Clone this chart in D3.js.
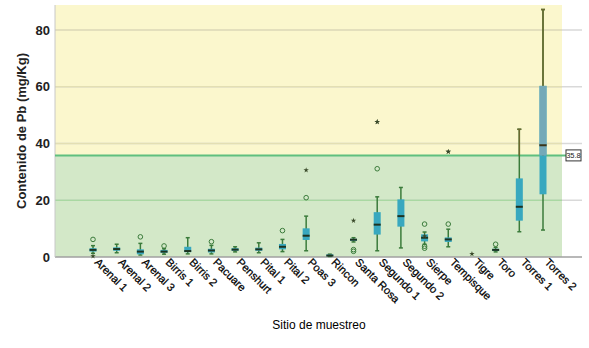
<!DOCTYPE html>
<html>
<head>
<meta charset="utf-8">
<script src="https://cdn.jsdelivr.net/npm/d3@7"></script>
<style>
  body { margin: 0; background: #fff; }
  text { font-family: "Liberation Sans", Arial, sans-serif; }
</style>
</head>
<body>
<script>
const sites = ['Arenal 1', 'Arenal 2', 'Arenal 3', 'Birris 1', 'Birris 2', 'Pacuare', 'Penshurt', 'Pital 1', 'Pital 2', 'Poas 3',
  'Rincon', 'Santa Rosa', 'Segundo 1', 'Segundo 2', 'Sierpe', 'Tempisque', 'Tigre', 'Toro', 'Torres 1', 'Torres 2']
const whiskerLow = [1.3, 1.5, 0.7, 1.0, 1.1, 1.1, 1.8, 1.5, 1.9, 2.2, 0.2, 5.3, 2.2, 3.2, 4.5, 3.6, 0.8, 1.8, 8.9, 9.5]
const q1 = [1.9, 2.2, 0.95, 1.5, 1.7, 1.6, 2.2, 2.2, 2.7, 6.0, 0.3, 5.7, 7.9, 10.7, 5.5, 5.3, 0.8, 2.1, 12.8, 22.1]
const median = [2.5, 2.8, 1.9, 1.9, 2.1, 2.3, 2.6, 2.7, 3.6, 7.5, 0.5, 6.1, 11.4, 14.4, 6.8, 6.2, 0.8, 2.5, 17.7, 39.4]
const q3 = [3.1, 3.4, 2.7, 2.5, 3.6, 2.9, 3.1, 3.3, 4.6, 10.1, 0.9, 6.4, 15.8, 20.3, 8.0, 6.9, 0.8, 2.9, 27.7, 60.3]
const whiskerHigh = [4.0, 4.5, 4.8, 2.9, 6.8, 4.1, 3.6, 5.0, 6.2, 14.4, 1.0, 6.8, 21.2, 24.5, 8.8, 9.8, 0.8, 3.4, 45.0, 87.2]
const outliers = [[6.2], [], [7.1], [3.9], [], [5.4], [], [], [9.3], [20.9], [], [2.0, 2.6], [31.1], [], [11.6, 3.1, 3.8], [11.6], [], [4.5], [], []]
const extremes = [[0.3], [], [], [], [], [], [], [], [], [30.6], [], [12.8], [47.6], [], [7.4], [37.1], [1.1], [], [], []]
const limit = 35.8
const yTicks = [0, 20, 40, 60, 80]

const width = 589
const height = 348
const plotLeft = 55, plotRight = 562, plotTop = 5, plotBottom = 257

const svg = d3.select('body').append('svg')
  .attr('width', width)
  .attr('height', height)

const x = d3.scalePoint().domain(sites).range([93, 543])
const y = d3.scaleLinear().domain([0, 88.8]).range([plotBottom, plotTop])

// background zones
svg.append('rect').attr('x', plotLeft).attr('y', plotTop)
  .attr('width', plotRight - plotLeft).attr('height', y(limit) - plotTop)
  .style('fill', '#fbf7cd')
svg.append('rect').attr('x', plotLeft).attr('y', y(limit))
  .attr('width', plotRight - plotLeft).attr('height', plotBottom - y(limit))
  .style('fill', '#d3e8c8')

// grid
const grid = svg.append('g')
grid.selectAll('.gl').data(yTicks.slice(1)).enter().append('line')
  .attr('x1', plotLeft).attr('x2', 582)
  .attr('y1', d => y(d)).attr('y2', d => y(d))
  .style('stroke', '#d9d9d9').style('stroke-width', 1.5)
grid.selectAll('.gc').data(yTicks.slice(1)).enter().append('line')
  .attr('x1', plotLeft).attr('x2', plotRight)
  .attr('y1', d => y(d)).attr('y2', d => y(d))
  .style('stroke', d => d > limit ? '#e3dfb3' : '#a9d8a2').style('stroke-width', 1.5)

// axes
svg.append('line').attr('x1', plotLeft).attr('x2', 582).attr('y1', plotBottom).attr('y2', plotBottom)
  .style('stroke', '#a0a0a0').style('stroke-width', 1.5)
svg.append('line').attr('x1', plotLeft).attr('x2', plotLeft).attr('y1', plotTop).attr('y2', plotBottom)
  .style('stroke', '#c8c8c8').style('stroke-width', 1)

svg.selectAll('.ytick').data(yTicks).enter().append('text')
  .attr('x', 50).attr('y', d => y(d)).attr('dy', '0.36em')
  .attr('text-anchor', 'end')
  .style('font-size', '13px').style('font-weight', 'bold').style('fill', '#222')
  .text(d => d)

svg.append('text')
  .attr('transform', `translate(26, 131) rotate(-90)`)
  .attr('text-anchor', 'middle')
  .style('font-size', '13px').style('font-weight', 'bold').style('fill', '#222')
  .text('Contenido de Pb (mg/Kg)')

svg.selectAll('.xtick').data(sites).enter().append('text')
  .attr('transform', d => `translate(${x(d) + 1}, 263) rotate(45)`)
  .style('font-size', '11px').style('fill', '#000')
  .style('stroke', '#000').style('stroke-width', 0.25)
  .text(d => d)

svg.append('text')
  .attr('x', 319).attr('y', 329)
  .attr('text-anchor', 'middle')
  .style('font-size', '12px').style('fill', '#000')
  .text('Sitio de muestreo')

// limit line
svg.append('line').attr('x1', plotLeft).attr('x2', 566)
  .attr('y1', y(limit)).attr('y2', y(limit))
  .style('stroke', '#5fbf7f').style('stroke-width', 2)

const rows = sites.map((s, i) => ({
  site: s, lo: whiskerLow[i], q1: q1[i], med: median[i], q3: q3[i], hi: whiskerHigh[i],
  out: outliers[i], ext: extremes[i]
}))

svg.append('clipPath').attr('id', 'upper').append('rect')
  .attr('x', 0).attr('y', 0).attr('width', width).attr('height', y(limit))

function drawBoxes (g, boxColor, lineColor, medColor) {
  const b = g.selectAll('.box').data(rows).enter().append('g')
  b.append('line')
    .attr('x1', d => x(d.site)).attr('x2', d => x(d.site))
    .attr('y1', d => y(d.hi)).attr('y2', d => y(d.lo))
    .style('stroke', lineColor).style('stroke-width', 1.5)
  b.filter(d => d.hi > d.lo).selectAll('.cap').data(d => [d.lo, d.hi].map(v => ({ site: d.site, v }))).enter()
    .append('line')
    .attr('x1', d => x(d.site) - 2).attr('x2', d => x(d.site) + 2)
    .attr('y1', d => y(d.v)).attr('y2', d => y(d.v))
    .style('stroke', lineColor).style('stroke-width', 1.5)
  b.filter(d => d.q3 > d.q1).append('rect')
    .attr('x', d => x(d.site) - 3.5).attr('width', 7)
    .attr('y', d => y(d.q3)).attr('height', d => y(d.q1) - y(d.q3))
    .style('fill', boxColor)
  b.filter(d => d.q3 > d.q1).append('line')
    .attr('x1', d => x(d.site) - 3.5).attr('x2', d => x(d.site) + 3.5)
    .attr('y1', d => y(d.med)).attr('y2', d => y(d.med))
    .style('stroke', medColor).style('stroke-width', 2)
  b.selectAll('.out').data(d => d.out.map(v => ({ site: d.site, v }))).enter()
    .append('circle')
    .attr('cx', d => x(d.site)).attr('cy', d => y(d.v)).attr('r', 2.3)
    .style('fill', 'none').style('stroke', lineColor).style('stroke-width', 1)
  b.selectAll('.ext').data(d => d.ext.map(v => ({ site: d.site, v }))).enter()
    .append('path')
    .attr('d', d3.symbol(d3.symbolStar, 9))
    .attr('transform', d => `translate(${x(d.site)}, ${y(d.v)})`)
    .style('fill', '#3a4a2a')
}

drawBoxes(svg.append('g'), '#38a8bf', '#3b7b3b', '#1d3320')
drawBoxes(svg.append('g').attr('clip-path', 'url(#upper)'), '#74a9b8', '#6b692f', '#3a3418')

// limit label
svg.append('rect').attr('x', 566).attr('y', y(limit) - 5.5).attr('width', 15).attr('height', 11)
  .style('fill', '#fff').style('stroke', '#333').style('stroke-width', 1)
svg.append('text').attr('x', 573.5).attr('y', y(limit)).attr('dy', '0.35em')
  .attr('text-anchor', 'middle')
  .style('font-size', '7.5px').style('fill', '#222')
  .text(limit)
</script>
</body>
</html>
